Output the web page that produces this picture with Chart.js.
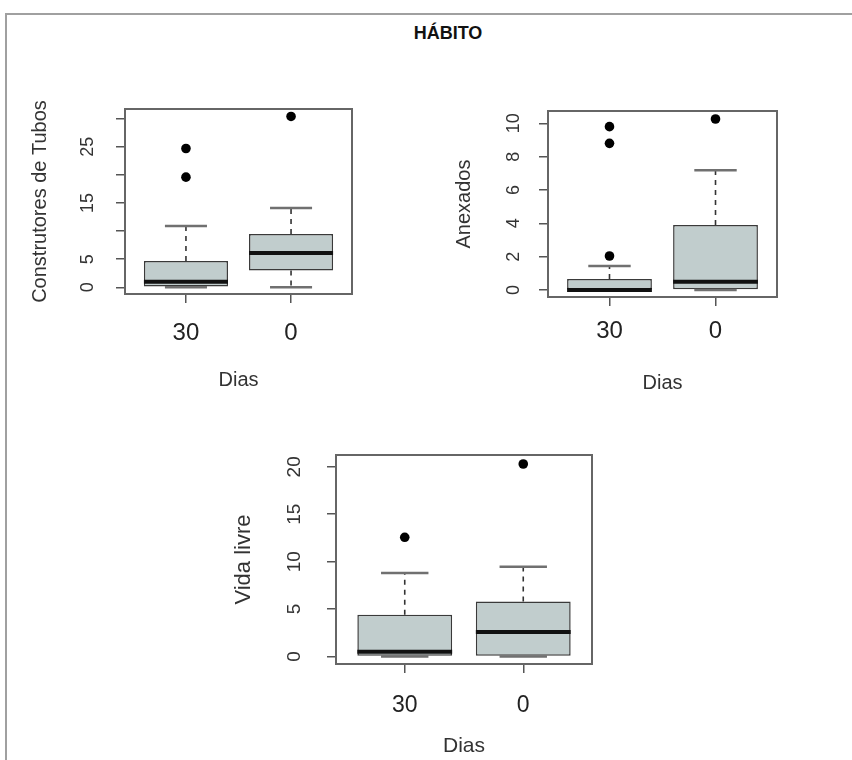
<!DOCTYPE html>
<html>
<head>
<meta charset="utf-8">
<script src="https://cdn.jsdelivr.net/npm/chart.js@4.4.1/dist/chart.umd.min.js"></script>
<style>
  html, body { margin: 0; padding: 0; background: #fff; }
  body { width: 852px; height: 760px; position: relative; overflow: hidden;
         font-family: 'Liberation Sans', Arial, sans-serif; }
  #frame { position: absolute; left: 5px; top: 13px; width: 900px; height: 800px;
           border-left: 2px solid #a0a0a0; border-top: 2px solid #a0a0a0; }
  #title { position: absolute; left: 0; top: 22px; width: 896px; line-height: 22px;
           text-align: center; font-weight: bold; font-size: 18px; color: #111; }
  canvas { position: absolute; }
</style>
</head>
<body>
<div id="frame"></div>
<div id="title">HÁBITO</div>
<canvas id="c1" width="360" height="310" style="left:10px; top:95px;"></canvas>
<canvas id="c2" width="360" height="310" style="left:440px; top:95px;"></canvas>
<canvas id="c3" width="400" height="320" style="left:220px; top:440px;"></canvas>

<script>
// ── Data ──────────────────────────────────────────────────────
const dias = ['30', '0'];

// Construtores de Tubos
const tubosLo  = [0, 0];
const tubosQ1  = [0, 3.0];
const tubosMed = [1.0, 6.1];
const tubosQ3  = [4.7, 9.5];
const tubosHi  = [10.9, 14.1];
const tubosOut = [[24.7, 19.6], [30.4]];
const tubosTicks = [0, 5, 10, 15, 20, 25, 30];
const tubosTickLabels = ['0', '5', '', '15', '', '25', ''];

// Anexados
const anexLo  = [0, 0];
const anexQ1  = [0, 0];
const anexMed = [0, 0.5];
const anexQ3  = [0.66, 3.9];
const anexHi  = [1.44, 7.18];
const anexOut = [[2.04, 8.8, 9.8], [10.26]];
const anexTicks = [0, 2, 4, 6, 8, 10];
const anexTickLabels = ['0', '2', '4', '6', '8', '10'];

// Vida livre
const vidaLo  = [0, 0];
const vidaQ1  = [0, 0];
const vidaMed = [0.5, 2.58];
const vidaQ3  = [4.4, 5.8];
const vidaHi  = [8.8, 9.47];
const vidaOut = [[12.57], [20.3]];
const vidaTicks = [0, 5, 10, 15, 20];
const vidaTickLabels = ['0', '5', '10', '15', '20'];

// ── Styling ───────────────────────────────────────────────────
const FONT = "'Liberation Sans', Arial, sans-serif";
const BOX_FILL = '#c1cdcd';   // R "azure3"
const HALF = 0.4;             // half box width (x units)
const CAP = 0.2;              // half staple width

Chart.defaults.font.family = FONT;

// Plot frame (R's box around the plot region)
const frameBox = {
  id: 'frameBox',
  afterDraw(chart) {
    const { ctx, chartArea: { left, top, right, bottom } } = chart;
    ctx.save();
    ctx.strokeStyle = '#666';
    ctx.lineWidth = 2;
    ctx.strokeRect(left, top, right - left, bottom - top);
    ctx.restore();
  },
};

function boxDatasets(lo, q1, med, q3, hi, out) {
  const whisk = [], caps = [], meds = [], pts = [];
  q1.forEach((v, i) => {
    const g = i + 1;
    whisk.push({ x: g, y: q3[i] }, { x: g, y: hi[i] }, { x: g, y: null },
               { x: g, y: v }, { x: g, y: lo[i] }, { x: g, y: null });
    caps.push({ x: g - CAP, y: hi[i] }, { x: g + CAP, y: hi[i] }, { x: g, y: null },
              { x: g - CAP, y: lo[i] }, { x: g + CAP, y: lo[i] }, { x: g, y: null });
    meds.push({ x: g - HALF, y: med[i] }, { x: g + HALF, y: med[i] }, { x: g, y: null });
    out[i].forEach((o) => pts.push({ x: g, y: o }));
  });
  return [
    {
      type: 'bar',
      data: q1.map((v, i) => ({ x: i + 1, y: [v, q3[i]] })),
      backgroundColor: BOX_FILL,
      borderColor: '#3a3a3a',
      borderWidth: 1.5,
      borderSkipped: false,
      barPercentage: 0.8,
      categoryPercentage: 1.0,
      order: 4,
    },
    {
      type: 'line', data: whisk, borderColor: '#333', borderWidth: 1.6,
      borderDash: [5, 5], pointRadius: 0, pointHoverRadius: 0, spanGaps: false, order: 3,
    },
    {
      type: 'line', data: caps, borderColor: '#707070', borderWidth: 2.5,
      pointRadius: 0, pointHoverRadius: 0, spanGaps: false, order: 2,
    },
    {
      type: 'line', data: meds, borderColor: '#111', borderWidth: 4,
      pointRadius: 0, pointHoverRadius: 0, spanGaps: false, order: 1,
    },
    {
      type: 'scatter', data: pts, pointRadius: 4.8, pointBackgroundColor: '#000',
      pointBorderWidth: 0, order: 0,
    },
  ];
}

const panels = [
  { id: 'c1', yTitle: 'Construtores de Tubos',
    sets: boxDatasets(tubosLo, tubosQ1, tubosMed, tubosQ3, tubosHi, tubosOut),
    ticks: tubosTicks, labels: tubosTickLabels, min: -1.19, max: 31.73,
    yW: 115, xH: 111, padTop: 14, padRight: 18,
    yTitleSize: 20, yTitlePad: 18, yTickSize: 18, yTickPad: 17.5,
    xTickSize: 24, xTickPad: 15.6, xTitleSize: 20, xTitlePad: 13 },
  { id: 'c2', yTitle: 'Anexados',
    sets: boxDatasets(anexLo, anexQ1, anexMed, anexQ3, anexHi, anexOut),
    ticks: anexTicks, labels: anexTickLabels, min: -0.42, max: 10.74,
    yW: 108, xH: 108, padTop: 16, padRight: 23,
    yTitleSize: 20, yTitlePad: 12, yTickSize: 18, yTickPad: 14.5,
    xTickSize: 24, xTickPad: 10.6, xTitleSize: 20, xTitlePad: 10 },
  { id: 'c3', yTitle: 'Vida livre',
    sets: boxDatasets(vidaLo, vidaQ1, vidaMed, vidaQ3, vidaHi, vidaOut),
    ticks: vidaTicks, labels: vidaTickLabels, min: -0.8, max: 21.25,
    yW: 116, xH: 96, padTop: 15, padRight: 28,
    yTitleSize: 22, yTitlePad: 10.8, yTickSize: 19, yTickPad: 21.4,
    xTickSize: 23, xTickPad: 19.2, xTitleSize: 21, xTitlePad: 1.4 },
];

const tickGrid = {
  display: true, drawOnChartArea: false, drawTicks: true,
  tickLength: 9, color: '#555', lineWidth: 1.5, offset: false,
};

panels.forEach((p) => {
  new Chart(document.getElementById(p.id), {
    type: 'bar',
    data: { datasets: p.sets },
    options: {
      responsive: false,
      animation: false,
      devicePixelRatio: 1,
      layout: { padding: { top: p.padTop, right: p.padRight, left: 0, bottom: 0 } },
      plugins: { legend: { display: false }, tooltip: { enabled: false } },
      scales: {
        x: {
          type: 'linear', min: 0.42, max: 2.58, offset: false,
          afterBuildTicks: (s) => { s.ticks = dias.map((_, i) => ({ value: i + 1 })); },
          afterFit: (s) => { s.height = p.xH; s.paddingLeft = 0; s.paddingRight = 0; },
          grid: tickGrid,
          border: { display: false },
          ticks: {
            autoSkip: false, maxRotation: 0, padding: p.xTickPad, color: '#222',
            font: { size: p.xTickSize },
            callback: (v) => dias[Math.round(v) - 1],
          },
          title: {
            display: true, text: 'Dias', color: '#333',
            font: { size: p.xTitleSize }, padding: p.xTitlePad,
          },
        },
        y: {
          type: 'linear', min: p.min, max: p.max, beginAtZero: false,
          afterBuildTicks: (s) => { s.ticks = p.ticks.map((v) => ({ value: v })); },
          afterFit: (s) => { s.width = p.yW; s.paddingTop = 0; s.paddingBottom = 0; },
          grid: tickGrid,
          border: { display: false },
          ticks: {
            autoSkip: false, minRotation: 90, maxRotation: 90, crossAlign: 'center',
            padding: p.yTickPad, color: '#333', font: { size: p.yTickSize },
            callback: (v, i) => p.labels[i],
          },
          title: {
            display: true, text: p.yTitle, color: '#333',
            font: { size: p.yTitleSize }, padding: p.yTitlePad,
          },
        },
      },
    },
    plugins: [frameBox],
  });
});
</script>
</body>
</html>
